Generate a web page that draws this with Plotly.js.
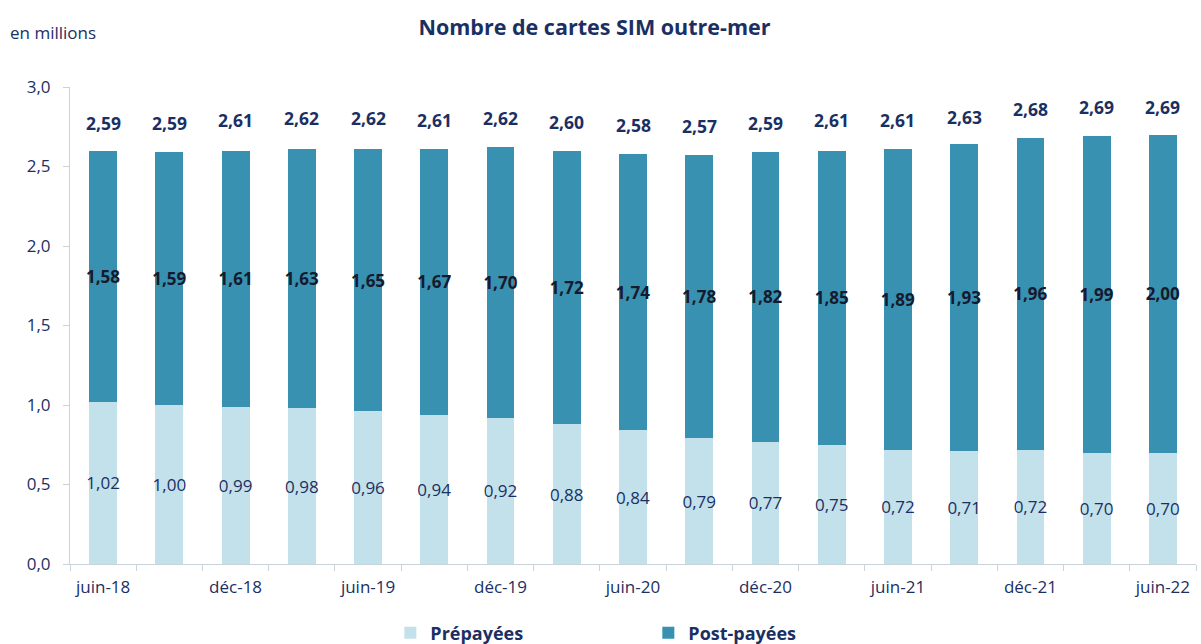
<!DOCTYPE html>
<html>
<head>
<meta charset="utf-8">
<script src="https://cdn.plot.ly/plotly-3.0.1.min.js"></script>
<style>html,body{margin:0;padding:0;background:#fff;}#chart{width:1201px;height:644px;}</style>
</head>
<body>
<div id="chart"></div>
<script>
const categories = ["juin-18","sept-18","déc-18","mars-19","juin-19","sept-19","déc-19","mars-20","juin-20","sept-20","déc-20","mars-21","juin-21","sept-21","déc-21","mars-22","juin-22"];
const tickLabels = ["juin-18","","déc-18","","juin-19","","déc-19","","juin-20","","déc-20","","juin-21","","déc-21","","juin-22"];
const prepaid = [1.02,1.00,0.99,0.98,0.96,0.94,0.92,0.88,0.84,0.79,0.77,0.75,0.72,0.71,0.72,0.70,0.70];
const postpaid = [1.58,1.59,1.61,1.63,1.65,1.67,1.70,1.72,1.74,1.78,1.82,1.85,1.89,1.93,1.96,1.99,2.00];
const totals = [2.59,2.59,2.61,2.62,2.62,2.61,2.62,2.60,2.58,2.57,2.59,2.61,2.61,2.63,2.68,2.69,2.69];

const FONT = "Open Sans, Noto Sans, sans-serif";
const NAVY = "#1b2f63";
const fmt = v => v.toFixed(2).replace(".", ",");

const traces = [
  {
    type: "bar", name: "Prépayées", x: categories, y: prepaid,
    marker: {color: "#c3e1ea"},
    text: prepaid.map(fmt), textposition: "inside", insidetextanchor: "middle",
    textangle: 0, constraintext: "none",
    textfont: {family: FONT, size: 17, color: NAVY},
    hoverinfo: "skip"
  },
  {
    type: "bar", name: "Post-payées", x: categories, y: postpaid,
    marker: {color: "#3891b0"},
    text: postpaid.map(fmt), textposition: "inside", insidetextanchor: "middle",
    textangle: 0, constraintext: "none",
    textfont: {family: FONT, size: 17, color: "#161a2e", weight: "bold"},
    hoverinfo: "skip"
  }
];

const annotations = categories.map((c, i) => ({
  x: c, y: totals[i], xref: "x", yref: "y",
  text: "<b>" + fmt(totals[i]) + "</b>", showarrow: false,
  yanchor: "bottom", yshift: 15,
  font: {family: FONT, size: 17.5, color: NAVY}
}));
annotations.push({
  xref: "paper", yref: "paper", x: -0.055, y: 1.115, xanchor: "left", yanchor: "middle",
  text: "en millions", showarrow: false,
  font: {family: FONT, size: 17, color: NAVY}
});

const layout = {
  width: 1201, height: 644,
  margin: {l: 70, r: 5, t: 87, b: 80},
  paper_bgcolor: "#fff", plot_bgcolor: "#fff",
  separators: ", ",
  barmode: "stack", bargap: 0.58,
  title: {text: "<b>Nombre de cartes SIM outre-mer</b>", x: 0.495, xanchor: "center", y: 0.958, yanchor: "middle",
          font: {family: FONT, size: 21.5, color: NAVY}},
  xaxis: {
    type: "category", tickmode: "array", tickvals: categories, ticktext: tickLabels,
    tickson: "boundaries", ticks: "outside", ticklen: 6, tickcolor: "#c9d3da",
    ticklabelstandoff: 8,
    showline: true, linecolor: "#c9d3da", linewidth: 1, showgrid: false,
    tickfont: {family: FONT, size: 17, color: NAVY}, fixedrange: true
  },
  yaxis: {
    range: [0, 3], tickvals: [0, 0.5, 1, 1.5, 2, 2.5, 3], tickformat: ".1f",
    ticks: "outside", ticklen: 6, tickcolor: "#c9d3da",
    ticklabelstandoff: 9,
    showline: true, linecolor: "#c9d3da", linewidth: 1, showgrid: false, zeroline: false,
    tickfont: {family: FONT, size: 17, color: NAVY}, fixedrange: true
  },
  legend: {
    orientation: "h", xref: "container", yref: "container",
    x: 0.325, xanchor: "left", y: 0.017, yanchor: "middle",
    itemwidth: 30, entrywidth: 213, entrywidthmode: "pixels", traceorder: "normal",
    font: {family: FONT, size: 18, color: NAVY, weight: "bold"}
  },
  annotations: annotations,
  showlegend: true
};

Plotly.newPlot("chart", traces, layout, {displayModeBar: false, staticPlot: true});
</script>
</body>
</html>
